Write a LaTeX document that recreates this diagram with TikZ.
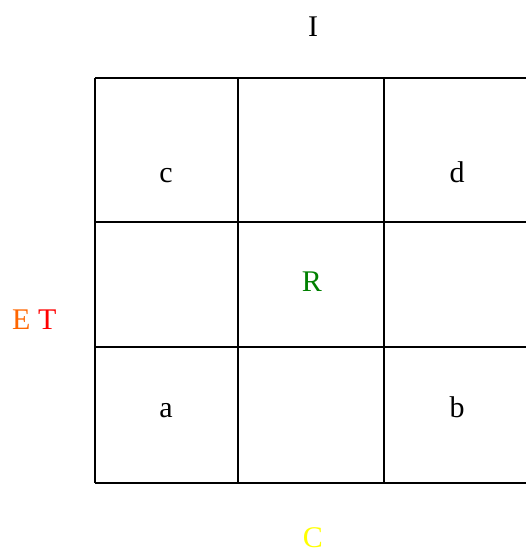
\documentclass[tikz,border=0pt]{standalone}
\usepackage{fontspec}
\setmainfont{Liberation Serif}
\usepackage{xcolor}
\definecolor{eorange}{RGB}{255,102,0}
\definecolor{rgreen}{RGB}{0,128,0}
\definecolor{cyellow}{RGB}{255,255,0}

\begin{document}
\begin{tikzpicture}[x=1pt, y=-1pt,
  lbl/.style={anchor=base, inner sep=0pt, font=\fontsize{30}{34}\selectfont},
  gridline/.style={line width=2.2pt, color=black}
]
  \useasboundingbox (0,0) rectangle (526,552);

  % Grid lines
  \foreach \gx in {95, 238, 384}
    \draw[gridline] (\gx,78) -- (\gx,483);
  \foreach \gy in {78, 222, 347, 483}
    \draw[gridline] (95,\gy) -- (526,\gy);

  % Cell labels
  \node[lbl] (c) at (166,182) {c};
  \node[lbl] (d) at (457,182) {d};
  \node[lbl, text=rgreen] (r) at (312,291) {R};
  \node[lbl] (a) at (166,417) {a};
  \node[lbl] (b) at (457,417) {b};

  % Side labels
  \node[lbl] (i) at (313,36) {I};
  \node[lbl, anchor=base west] (et) at (12,329) {\textcolor{eorange}{E} \textcolor{red}{T}};
  \node[lbl, text=cyellow] (cc) at (313,547) {C};
\end{tikzpicture}
\end{document}
